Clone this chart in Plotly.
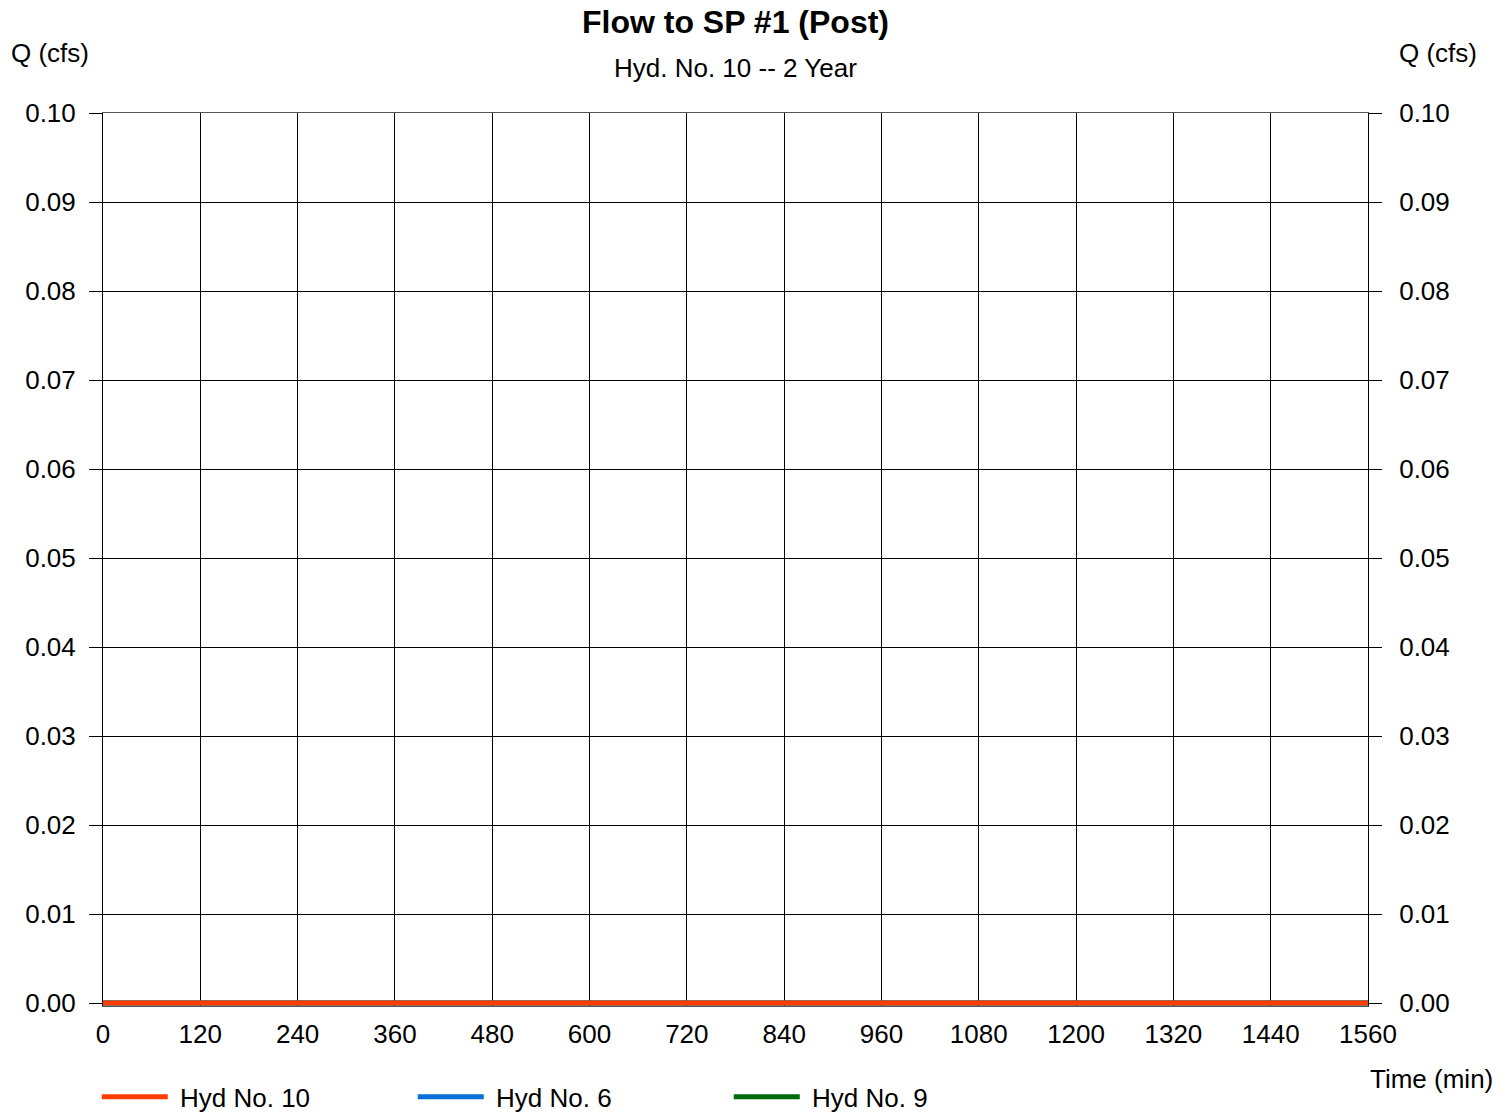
import plotly.graph_objects as go

# Data (all three hydrographs are zero over the whole period)
time_min = [0, 120, 240, 360, 480, 600, 720, 840, 960, 1080, 1200, 1320, 1440, 1560]
hyd10_q = [0, 0, 0, 0, 0, 0, 0, 0, 0, 0, 0, 0, 0, 0]
hyd6_q = [0, 0, 0, 0, 0, 0, 0, 0, 0, 0, 0, 0, 0, 0]
hyd9_q = [0, 0, 0, 0, 0, 0, 0, 0, 0, 0, 0, 0, 0, 0]

x_ticks = [0, 120, 240, 360, 480, 600, 720, 840, 960, 1080, 1200, 1320, 1440, 1560]
y_ticks = [0.00, 0.01, 0.02, 0.03, 0.04, 0.05, 0.06, 0.07, 0.08, 0.09, 0.10]
y_tick_labels = ["0.00", "0.01", "0.02", "0.03", "0.04", "0.05", "0.06", "0.07", "0.08", "0.09", "0.10"]

FONT = "Liberation Sans, Arial, sans-serif"
FS = 26
NB = "\u00a0"

# small padding below zero so the zero-flow line is not half clipped
Y_RANGE = [-0.000337, 0.10]

fig = go.Figure()
fig.add_trace(go.Scatter(x=time_min, y=hyd9_q, mode="lines", name=NB + "Hyd No. 9",
                         line=dict(color="#006A0A", width=5), legendrank=3))
fig.add_trace(go.Scatter(x=time_min, y=hyd6_q, mode="lines", name=NB + "Hyd No. 6",
                         line=dict(color="#0A6FD8", width=5), legendrank=2))
fig.add_trace(go.Scatter(x=time_min, y=hyd10_q, mode="lines", name=NB + "Hyd No. 10",
                         line=dict(color="#FF3D00", width=5), legendrank=1))
# invisible trace to activate right axis
fig.add_trace(go.Scatter(x=time_min, y=hyd10_q, yaxis="y2", mode="lines",
                         line=dict(width=0), showlegend=False, hoverinfo="skip"))

fig.update_layout(
    width=1512, height=1114,
    margin=dict(l=103, r=144, t=113, b=108),
    paper_bgcolor="white", plot_bgcolor="white",
    font=dict(family=FONT, size=FS, color="black"),
    showlegend=True,
    legend=dict(orientation="h", x=0.064, xref="container", xanchor="left",
                y=0.0153, yanchor="middle", yref="container",
                entrywidth=235, entrywidthmode="pixels",
                font=dict(size=FS, family=FONT), traceorder="normal",
                itemwidth=66, bgcolor="rgba(0,0,0,0)"),
    xaxis=dict(range=[0, 1560], tickvals=x_ticks, ticks="", showgrid=True,
               gridcolor="black", gridwidth=1, showline=True, linecolor="#555555",
               linewidth=1, mirror=True, zeroline=False,
               tickfont=dict(size=FS, family=FONT), ticklabelstandoff=5),
    yaxis=dict(range=Y_RANGE, tickvals=y_ticks, ticktext=y_tick_labels,
               ticks="outside", ticklen=13, tickcolor="black", showgrid=True,
               gridcolor="black", gridwidth=1, showline=True, linecolor="black",
               linewidth=1, mirror=False, zeroline=True, zerolinecolor="black",
               zerolinewidth=1,
               tickfont=dict(size=FS, family=FONT), ticklabelstandoff=8),
    yaxis2=dict(range=Y_RANGE, tickvals=y_ticks, ticktext=y_tick_labels,
                overlaying="y", side="right", ticks="outside", ticklen=13,
                tickcolor="black", showgrid=False, showline=True, linecolor="black",
                zeroline=False, tickfont=dict(size=FS, family=FONT),
                ticklabelstandoff=12),
    annotations=[
        dict(text="<b>Flow to SP #1 (Post)</b>", xref="paper", yref="paper",
             x=0.5, y=1.0, yshift=91, showarrow=False, xanchor="center",
             yanchor="middle", font=dict(size=32, family=FONT)),
        dict(text="Hyd. No. 10 -- 2 Year", xref="paper", yref="paper",
             x=0.5, y=1.0, yshift=45, showarrow=False, xanchor="center",
             yanchor="middle", font=dict(size=FS, family=FONT)),
        dict(text="Q (cfs)", xref="paper", yref="paper", x=0, xshift=-53,
             y=1.0, yshift=60, showarrow=False, xanchor="center", yanchor="middle",
             font=dict(size=FS, family=FONT)),
        dict(text="Q (cfs)", xref="paper", yref="paper", x=1, xshift=70,
             y=1.0, yshift=60, showarrow=False, xanchor="center", yanchor="middle",
             font=dict(size=FS, family=FONT)),
        dict(text="Time (min)", xref="paper", yref="paper", x=1, xshift=63,
             y=0, yshift=-73, showarrow=False, xanchor="center", yanchor="middle",
             font=dict(size=FS, family=FONT)),
    ],
)

fig.write_html("out.html")
